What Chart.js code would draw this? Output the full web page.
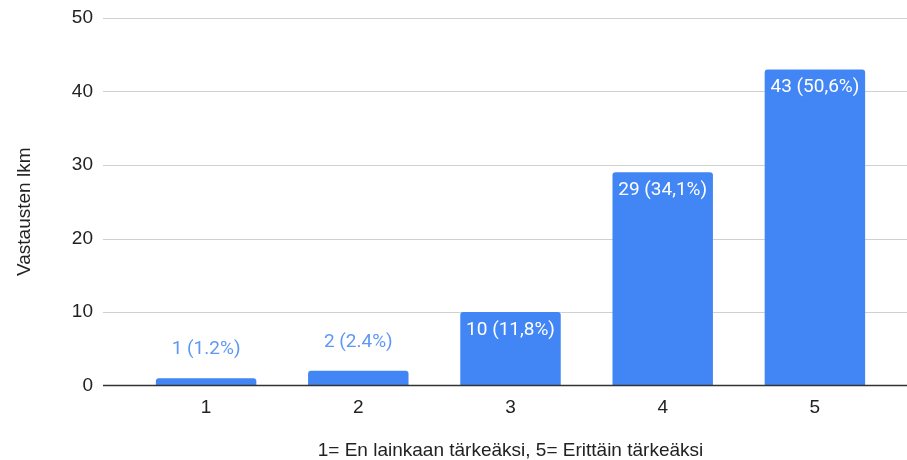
<!DOCTYPE html>
<html>
<head>
<meta charset="utf-8">
<script src="https://cdn.jsdelivr.net/npm/chart.js@4"></script>
<style>
  html, body { margin: 0; padding: 0; background: #fff; }
  #wrap { width: 907px; height: 460px; position: relative; }
</style>
</head>
<body>
<div id="wrap"><canvas id="chart"></canvas></div>
<script>
// values
const categories = ['1', '2', '3', '4', '5'];
const counts = [1, 2, 10, 29, 43];
const countLabels = ['1 (1.2%)', '2 (2.4%)', '10 (11,8%)', '29 (34,1%)', '43 (50,6%)'];
const yMax = 50;
const yStep = 10;
const yTitle = 'Vastausten lkm';
const xTitle = '1= En lainkaan tärkeäksi, 5= Erittäin tärkeäksi';

const barColor = '#4285F4';
const axisFont = { family: 'Arial, "Liberation Sans", sans-serif', size: 19 };

// gridlines run past the plot area on both sides, like the original
const gridPlugin = {
  id: 'wideGrid',
  beforeDatasetsDraw(chart) {
    const { ctx, chartArea, scales: { y } } = chart;
    ctx.save();
    ctx.strokeStyle = '#d0d0d0';
    ctx.lineWidth = 1;
    y.ticks.forEach((t) => {
      if (t.value === 0) return;
      const py = Math.round(y.getPixelForValue(t.value)) + 0.5;
      ctx.beginPath();
      ctx.moveTo(chartArea.left - 27, py);
      ctx.lineTo(chart.width, py);
      ctx.stroke();
    });
    ctx.restore();
  },
  afterDatasetsDraw(chart) {
    const { ctx, chartArea, scales: { y } } = chart;
    const py = Math.round(y.getPixelForValue(0)) - 0.5;
    ctx.save();
    ctx.strokeStyle = '#333';
    ctx.lineWidth = 1.5;
    ctx.beginPath();
    ctx.moveTo(chartArea.left - 27, py);
    ctx.lineTo(chart.width, py);
    ctx.stroke();
    ctx.restore();
  }
};

// value labels: inside the bar top when it fits, above it otherwise
const labelPlugin = {
  id: 'barLabels',
  afterDatasetsDraw(chart) {
    const { ctx, chartArea } = chart;
    const meta = chart.getDatasetMeta(0);
    ctx.save();
    ctx.font = '19px Roboto, sans-serif';
    ctx.textAlign = 'center';
    ctx.textBaseline = 'middle';
    meta.data.forEach((bar, i) => {
      const h = bar.base - bar.y;
      if (h > 40) {
        ctx.fillStyle = '#ffffff';
        ctx.fillText(countLabels[i], bar.x, bar.y + 18);
      } else {
        ctx.fillStyle = '#5f97f5';
        ctx.fillText(countLabels[i], bar.x, bar.y - 29);
      }
    });

    // y axis title, sits a little below the plot middle in the original
    ctx.font = '19px Arial, "Liberation Sans", sans-serif';
    ctx.fillStyle = '#222';
    ctx.translate(25, (chartArea.top + chartArea.bottom) / 2 + 10);
    ctx.rotate(-Math.PI / 2);
    ctx.fillText(yTitle, 0, 0);
    ctx.restore();
  }
};

new Chart(document.getElementById('chart'), {
  type: 'bar',
  data: {
    labels: categories,
    datasets: [{
      data: counts,
      backgroundColor: barColor,
      borderRadius: 3,
      borderSkipped: 'start',
      barPercentage: 0.66,
      categoryPercentage: 1.0,
    }],
  },
  options: {
    responsive: true,
    maintainAspectRatio: false,
    animation: false,
    layout: {
      padding: { top: 18, right: 16, left: 0, bottom: 0 },
    },
    plugins: {
      legend: { display: false },
      tooltip: { enabled: false },
    },
    scales: {
      x: {
        grid: { display: false },
        border: { display: false },
        ticks: { font: axisFont, color: '#222', padding: 3 },
        title: {
          display: true,
          text: xTitle,
          font: { ...axisFont, lineHeight: 1 },
          color: '#222',
          padding: { top: 0, bottom: 0 },
        },
        afterFit(scale) { scale.height = 74.5; },
      },
      y: {
        min: 0,
        max: yMax,
        grid: { display: false },
        border: { display: false },
        ticks: { stepSize: yStep, font: axisFont, color: '#222', padding: 29 },
        afterFit(scale) {
          scale.width = 130;
          // tick padding would otherwise push the plot top down
          scale.paddingTop = 0;
          scale.paddingBottom = 0;
        },
      },
    },
  },
  plugins: [gridPlugin, labelPlugin],
});
</script>
</body>
</html>
